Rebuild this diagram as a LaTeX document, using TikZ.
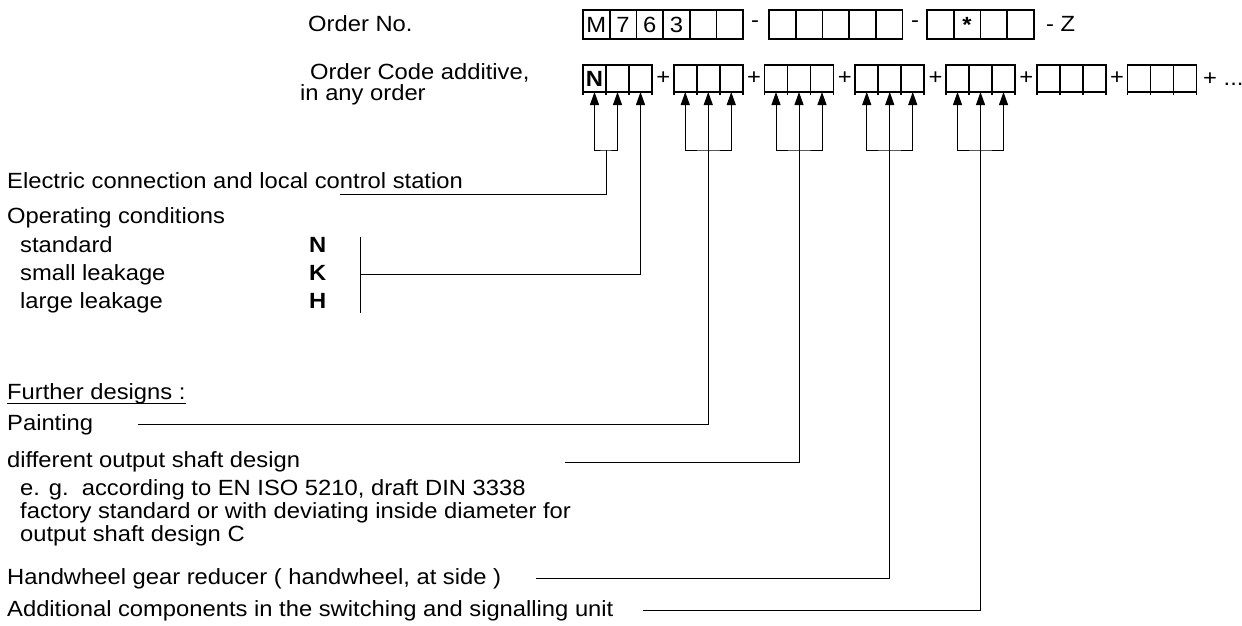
\documentclass[tikz,border=0pt]{standalone}
\usepackage{fontspec}
\setmainfont[FakeStretch=1.08]{Liberation Sans}
\usetikzlibrary{arrows.meta, positioning, calc}

\begin{document}
\begin{tikzpicture}[x=1pt, y=-1pt, >={Triangle[length=13pt, width=9pt]}, font=\fontsize{22}{25}\selectfont]
  \tikzstyle{txt} = [anchor=base west, inner sep=0pt]
  \tikzstyle{codebox} = [rectangle, draw, line width=1.6pt, minimum width=26.7pt, minimum height=29pt, inner sep=0pt, outer sep=0pt]
  \tikzstyle{addbox} = [rectangle, draw, line width=1.6pt, minimum width=23pt, minimum height=27pt, inner sep=0pt, outer sep=0pt]
  \tikzstyle{lead} = [line width=1pt]

  \useasboundingbox (0,0) rectangle (1242,626);

  % order number
  \node[txt] (orderno) at (308,32) {Order No.};
  \foreach \t [count=\i] in {M,7,6,3,{},{}}
    \node[codebox] (a\i) at ({583+\i*26.7-13.35},24.5) {\t};
  \node (dash1) at (755,24.5) {-};
  \foreach \t [count=\i] in {{},{},{},{},{}}
    \node[codebox] (b\i) at ({769+\i*26.7-13.35},24.5) {\t};
  \node (dash2) at (915,24.5) {-};
  \foreach \t [count=\i] in {{},\textbf{*},{},{}}
    \node[codebox] (c\i) at ({927+\i*26.7-13.35},24.5) {\t};
  \node[txt] (zsuf) at (1046,32) {- Z};

  % order code additive
  \node[txt] (ordcode) at (310,80) {Order Code additive,};
  \node[txt] (anyorder) at (300,100) {in any order};
  \foreach \g in {1,...,7} {
    \foreach \i in {1,2,3} {
      \node[addbox] (g\g-\i) at ({583+(\g-1)*90.75+\i*23-11.5},78.5) {};
      \draw[line width=1.6pt] (g\g-\i.south west) -- ++(0,3);
    }
    \draw[line width=1.6pt] (g\g-3.south east) -- ++(0,3);
  }
  \node (nmark) at (g1-1) {\textbf{N}};
  \foreach \g in {1,...,6}
    \node (plus\g) at ({583+\g*90.75-10.5},78) {+};
  \node[txt] (more) at (1203,85) {+ ...};

  % texts
  \node[txt] (elec) at (7,188) {Electric connection and local control station};
  \node[txt] (opcond) at (7,223) {Operating conditions};
  \foreach \lbl/\code/\y in {standard/N/252, small leakage/K/280, large leakage/H/308} {
    \node[txt] (op\code) at (20,\y) {\lbl};
    \node[txt] (code\code) at (309,\y) {\textbf{\code}};
  }
  \node[txt] (further) at (7,399) {Further designs :};
  \draw[line width=1pt] ([yshift=-4pt]further.base west) -- ([yshift=-4pt]further.base east);
  \node[txt] (painting) at (7,430) {Painting};
  \node[txt] (shaft) at (7,467) {different output shaft design};
  \node[txt] (shafteg) at (20,495) {e. g.\ \ according to EN ISO 5210, draft DIN 3338};
  \node[txt] (shaftfac) at (20,518) {factory standard or with deviating inside diameter for};
  \node[txt] (shaftc) at (20,541) {output shaft design C};
  \node[txt] (hand) at (7,584) {Handwheel gear reducer ( handwheel, at side )};
  \node[txt] (addl) at (7,616) {Additional components in the switching and signalling unit};

  % leads
  \coordinate (j1) at (606,150);
  \coordinate (e1) at (340,194);
  \draw[lead, <->] (g1-1.south) |- (j1) -| (g1-2.south);
  \draw[lead] (j1) |- (e1);
  \coordinate (opbar) at (360,274);
  \draw[lead] (opbar) ++(0,-37) -- ++(0,76);
  \draw[lead, ->] (opbar) -| (g1-3.south);
  \foreach \g/\x/\y in {2/138/424, 3/565/462, 4/536/578, 5/643/610} {
    \coordinate (j\g) at ($(g\g-2.south)+(0,58)$);
    \coordinate (e\g) at (\x,\y);
    \draw[lead, <->] (g\g-1.south) |- (j\g) -| (g\g-3.south);
    \draw[lead, ->] (e\g) -| (g\g-2.south);
  }
\end{tikzpicture}
\end{document}
